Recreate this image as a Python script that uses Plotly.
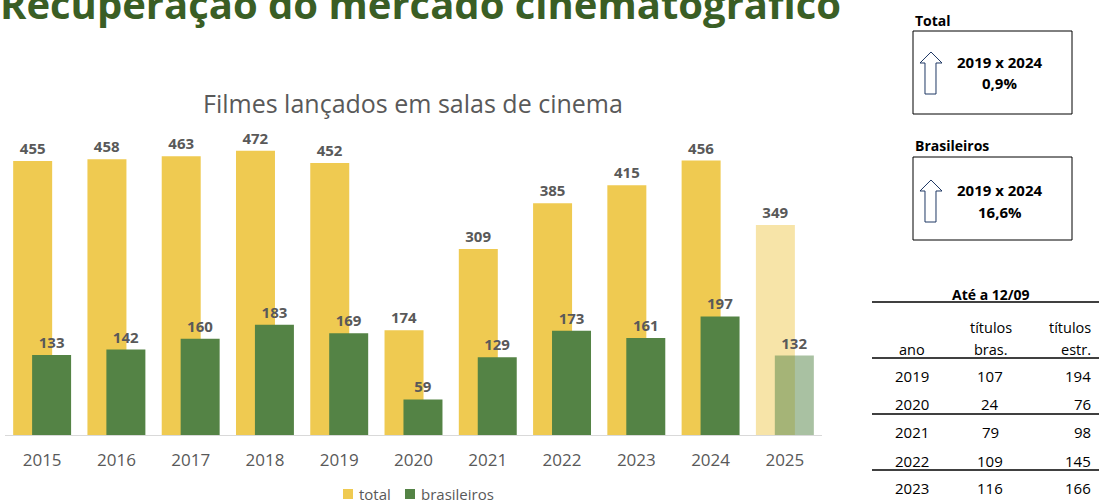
import plotly.graph_objects as go

# ---- data ----
years = [str(y) for y in range(2015, 2026)]
total = [455, 458, 463, 472, 452, 174, 309, 385, 415, 456, 349]
brasileiros = [133, 142, 160, 183, 169, 59, 129, 173, 161, 197, 132]

table_title = "Até a 12/09"
table_years = ["2019", "2020", "2021", "2022", "2023"]
table_bras = [107, 24, 79, 109, 116]
table_estr = [194, 76, 98, 145, 166]

# ---- geometry helpers (pixel -> paper) ----
W, H = 1099, 502
L, R, T, B = 5, 277, 100, 67
pw, ph = W - L - R, H - T - B


def px(x):
    return (x - L) / pw


def py(y):
    return (H - B - y) / ph


YELLOW = "#EFCA51"
GREEN = "#548345"
GRAY = "#595959"
FONT = "Open Sans"

opac = [1.0] * (len(years) - 1) + [0.5]

fig = go.Figure()
fig.add_trace(go.Bar(
    x=years, y=total, name="total",
    marker=dict(color=YELLOW, opacity=opac, line=dict(width=0)),
    offset=-0.39, width=0.525,
    text=total, textposition="outside",
    textfont=dict(family=FONT, size=15, color=GRAY, weight="bold"),
    cliponaxis=False,
))
fig.add_trace(go.Bar(
    x=years, y=brasileiros, name="brasileiros",
    marker=dict(color=GREEN, opacity=opac, line=dict(width=0)),
    offset=-0.135, width=0.525,
    text=brasileiros, textposition="outside",
    textfont=dict(family=FONT, size=15, color=GRAY, weight="bold"),
    cliponaxis=False,
))

annotations = []
shapes = []

# main title (partially cut at top)
annotations.append(dict(
    text="<b>Recuperação do mercado cinematográfico</b>",
    xref="paper", yref="paper", x=px(-2), y=py(3), xanchor="left", yanchor="middle",
    showarrow=False, font=dict(family=FONT, size=40, color="#3A5E25"),
))
# chart title
annotations.append(dict(
    text="Filmes lançados em salas de cinema",
    xref="paper", yref="paper", x=px(413), y=py(103), xanchor="center", yanchor="middle",
    showarrow=False, font=dict(family=FONT, size=25, color=GRAY),
))

# legend (drawn manually for compact spacing)
for tr, sx in zip(fig.data, [343, 405]):
    shapes.append(dict(type="rect", xref="paper", yref="paper",
                       x0=px(sx), x1=px(sx + 10), y0=py(489), y1=py(499),
                       line=dict(width=0), fillcolor=tr.marker.color))
    annotations.append(dict(text=tr.name, xref="paper", yref="paper", x=px(sx + 14), y=py(494),
                            xanchor="left", yanchor="middle", showarrow=False,
                            font=dict(family=FONT, size=15, color=GRAY)))

# summary boxes
i19, i24 = years.index("2019"), years.index("2024")
pct_total = (total[i24] - total[i19]) / total[i19] * 100
pct_bras = (brasileiros[i24] - brasileiros[i19]) / brasileiros[i19] * 100


def fmt(p):
    return f"{p:.1f}".replace(".", ",") + "%"


boxes = [("Total", 21, 31, 114, 62, 83, 52, fmt(pct_total)),
         ("Brasileiros", 145, 157, 240, 190, 212, 180, fmt(pct_bras))]
for label, ly, by0, by1, t1, t2, tip, val in boxes:
    annotations.append(dict(
        text=f"<b>{label}</b>", xref="paper", yref="paper", x=px(913), y=py(ly),
        xanchor="left", yanchor="middle", showarrow=False,
        font=dict(family=FONT, size=14, color="#000000")))
    shapes.append(dict(type="rect", xref="paper", yref="paper",
                       x0=px(913), x1=px(1072), y0=py(by0), y1=py(by1),
                       line=dict(color="#000000", width=1), fillcolor="rgba(0,0,0,0)"))
    annotations.append(dict(
        text="<b>2019 x 2024</b>", xref="paper", yref="paper", x=px(1000), y=py(t1),
        xanchor="center", yanchor="middle", showarrow=False,
        font=dict(family=FONT, size=15, color="#000000")))
    annotations.append(dict(
        text=f"<b>{val}</b>", xref="paper", yref="paper", x=px(1000), y=py(t2),
        xanchor="center", yanchor="middle", showarrow=False,
        font=dict(family=FONT, size=15, color="#000000")))
    head = tip + 11
    bottom = tip + 42
    pts = [(931, tip), (942, head), (936, head), (936, bottom), (925, bottom), (925, head), (920, head)]
    path = "M " + " L ".join(f"{px(a):.5f},{py(b):.5f}" for a, b in pts) + " Z"
    shapes.append(dict(type="path", xref="paper", yref="paper", path=path,
                       line=dict(color="#1F3864", width=1), fillcolor="white"))

# table
annotations.append(dict(
    text=f"<b>{table_title}</b>", xref="paper", yref="paper", x=px(991), y=py(294),
    xanchor="center", yanchor="middle", showarrow=False,
    font=dict(family=FONT, size=14, color="#000000")))
for yl in [302, 358, 414, 470]:
    shapes.append(dict(type="line", xref="paper", yref="paper",
                       x0=px(872), x1=px(1099), y0=py(yl), y1=py(yl),
                       line=dict(color="#000000", width=1.3)))
hdr = [("ano", 912, 349, "center"), ("títulos", 991, 327, "center"), ("bras.", 991, 349, "center"),
       ("títulos", 1093, 327, "right"), ("estr.", 1093, 349, "right")]
for t, x, y, anc in hdr:
    annotations.append(dict(text=t, xref="paper", yref="paper", x=px(x), y=py(y),
                            xanchor=anc, yanchor="middle", showarrow=False,
                            font=dict(family=FONT, size=14.5, color="#000000")))
row_y = [376, 404, 432, 461, 488]
for yr, b, e, y in zip(table_years, table_bras, table_estr, row_y):
    for t, x, anc in [(yr, 912, "center"), (str(b), 990, "center"), (str(e), 1093, "right")]:
        annotations.append(dict(text=t, xref="paper", yref="paper", x=px(x), y=py(y),
                                xanchor=anc, yanchor="middle", showarrow=False,
                                font=dict(family=FONT, size=15, color="#000000")))

fig.update_layout(
    width=W, height=H,
    margin=dict(l=L, r=R, t=T, b=B, autoexpand=False),
    barmode="overlay",
    plot_bgcolor="white", paper_bgcolor="white",
    font=dict(family=FONT, color=GRAY),
    xaxis=dict(type="category", range=[-0.5, len(years) - 0.5], showgrid=False,
               showline=True, linecolor="#D9D9D9", linewidth=1, ticks="",
               tickfont=dict(family=FONT, size=17, color=GRAY), ticklabelstandoff=10),
    yaxis=dict(range=[0, 556.5], visible=False, showgrid=False),
    showlegend=False,
    annotations=annotations, shapes=shapes,
)

fig.write_html("out.html", config={"displayModeBar": False},
               post_script="document.body.style.margin='0';document.body.style.padding='0';")
